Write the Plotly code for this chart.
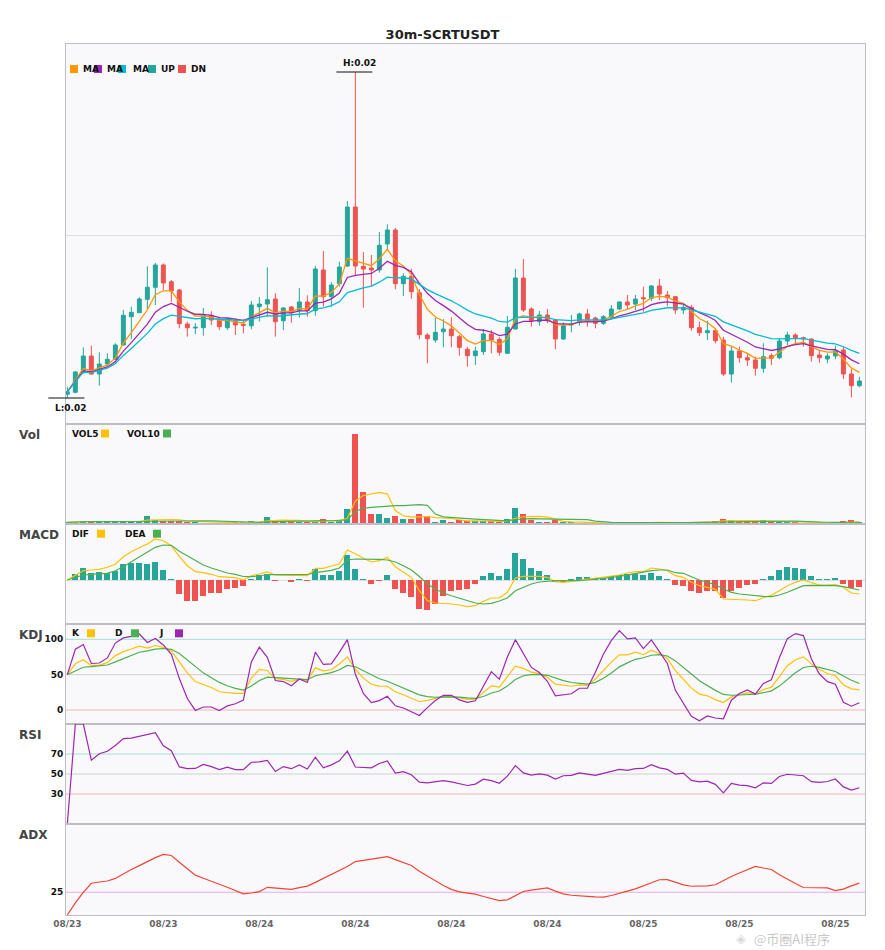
import numpy as np
import pandas as pd
import plotly.graph_objects as go
from plotly.subplots import make_subplots

TITLE = "30m-SCRTUSDT"
START = "2023-08-23 12:00"
FREQ = "30min"

open_ = [0.020037, 0.020057, 0.020253, 0.020420, 0.020240, 0.020340, 0.020387, 0.020530, 0.020813, 0.020853,
         0.020987, 0.021107, 0.021330, 0.021163, 0.021080, 0.020740, 0.020700, 0.020703, 0.020827, 0.020780,
         0.020703, 0.020773, 0.020737, 0.020723, 0.020913, 0.020940, 0.020990, 0.020773, 0.020910, 0.020873,
         0.020960, 0.020873, 0.021280, 0.021013, 0.021143, 0.021320, 0.021910, 0.021317, 0.021300, 0.021280,
         0.021540, 0.021680, 0.021143, 0.021217, 0.021053, 0.020630, 0.020580, 0.020663, 0.020690, 0.020613,
         0.020487, 0.020423, 0.020463, 0.020640, 0.020587, 0.020447, 0.020690, 0.021200, 0.020890, 0.020763,
         0.020830, 0.020780, 0.020590, 0.020730, 0.020763, 0.020840, 0.020800, 0.020747, 0.020807, 0.020890,
         0.020960, 0.020940, 0.021003, 0.020997, 0.021120, 0.021030, 0.021013, 0.020880, 0.020907, 0.020703,
         0.020653, 0.020673, 0.020580, 0.020240, 0.020470, 0.020403, 0.020380, 0.020297, 0.020423, 0.020403,
         0.020570, 0.020630, 0.020603, 0.020590, 0.020430, 0.020390, 0.020420, 0.020480, 0.020240, 0.020123]
high = [0.020113, 0.020270, 0.020507, 0.020523, 0.020457, 0.020447, 0.020547, 0.020880, 0.020913, 0.021007,
        0.021317, 0.021350, 0.021345, 0.021180, 0.021090, 0.020763, 0.020747, 0.020900, 0.020867, 0.020813,
        0.020807, 0.020797, 0.020787, 0.020970, 0.021010, 0.021307, 0.021047, 0.020910, 0.020920, 0.021100,
        0.021027, 0.021320, 0.021470, 0.021160, 0.021363, 0.021970, 0.023260, 0.021460, 0.021430, 0.021660,
        0.021737, 0.021700, 0.021247, 0.021293, 0.021090, 0.020650, 0.020803, 0.020790, 0.020807, 0.020630,
        0.020513, 0.020513, 0.020690, 0.020680, 0.020607, 0.020820, 0.021290, 0.021390, 0.020907, 0.020870,
        0.020890, 0.020790, 0.020757, 0.020830, 0.020853, 0.020890, 0.020813, 0.020830, 0.020930, 0.020965,
        0.021030, 0.021030, 0.021113, 0.021130, 0.021190, 0.021070, 0.021020, 0.020940, 0.020930, 0.020763,
        0.020773, 0.020697, 0.020613, 0.020513, 0.020513, 0.020447, 0.020413, 0.020547, 0.020447, 0.020597,
        0.020663, 0.020647, 0.020613, 0.020597, 0.020480, 0.020447, 0.020523, 0.020513, 0.020290, 0.020213]
low = [0.020000, 0.020047, 0.020247, 0.020235, 0.020123, 0.020313, 0.020380, 0.020525, 0.020590, 0.020850,
       0.020887, 0.020930, 0.021080, 0.020963, 0.020697, 0.020613, 0.020640, 0.020623, 0.020730, 0.020680,
       0.020680, 0.020630, 0.020647, 0.020687, 0.020763, 0.020813, 0.020613, 0.020680, 0.020753, 0.020803,
       0.020813, 0.020823, 0.020913, 0.020913, 0.021113, 0.021310, 0.021220, 0.020903, 0.021120, 0.021253,
       0.021480, 0.021087, 0.021020, 0.020993, 0.020587, 0.020347, 0.020553, 0.020507, 0.020507, 0.020423,
       0.020313, 0.020330, 0.020430, 0.020447, 0.020423, 0.020440, 0.020685, 0.020860, 0.020713, 0.020723,
       0.020747, 0.020487, 0.020580, 0.020657, 0.020723, 0.020713, 0.020697, 0.020730, 0.020797, 0.020880,
       0.020880, 0.020880, 0.020863, 0.020970, 0.020980, 0.020920, 0.020840, 0.020840, 0.020673, 0.020620,
       0.020580, 0.020547, 0.020220, 0.020153, 0.020353, 0.020320, 0.020223, 0.020253, 0.020330, 0.020387,
       0.020530, 0.020547, 0.020513, 0.020363, 0.020353, 0.020347, 0.020387, 0.020190, 0.020005, 0.020107]
close = [0.020063, 0.020260, 0.020420, 0.020240, 0.020340, 0.020387, 0.020530, 0.020827, 0.020857, 0.020990,
         0.021107, 0.021330, 0.021150, 0.021070, 0.020743, 0.020703, 0.020707, 0.020827, 0.020780, 0.020713,
         0.020780, 0.020730, 0.020727, 0.020930, 0.020940, 0.020983, 0.020763, 0.020900, 0.020853, 0.020960,
         0.020873, 0.021290, 0.021013, 0.021130, 0.021310, 0.021910, 0.021320, 0.021290, 0.021280, 0.021527,
         0.021680, 0.021143, 0.021217, 0.021063, 0.020633, 0.020593, 0.020657, 0.020690, 0.020623, 0.020507,
         0.020423, 0.020470, 0.020640, 0.020580, 0.020457, 0.020707, 0.021200, 0.020880, 0.020773, 0.020830,
         0.020773, 0.020590, 0.020723, 0.020737, 0.020840, 0.020790, 0.020747, 0.020813, 0.020890, 0.020960,
         0.020930, 0.020990, 0.020993, 0.021120, 0.021040, 0.021003, 0.020880, 0.020907, 0.020703, 0.020653,
         0.020673, 0.020573, 0.020240, 0.020470, 0.020403, 0.020380, 0.020297, 0.020413, 0.020397, 0.020570,
         0.020630, 0.020603, 0.020590, 0.020423, 0.020403, 0.020420, 0.020470, 0.020240, 0.020123, 0.020170]
volume = [17000, 17000, 33000, 33000, 33000, 20000, 20000, 20000, 33000, 33000,
          83000, 40000, 30000, 30000, 30000, 20000, 17000, 10000, 10000, 10000,
          10000, 23000, 13000, 33000, 17000, 73000, 43000, 23000, 23000, 23000,
          20000, 33000, 53000, 17000, 30000, 153000, 903000, 323000, 103000, 103000,
          63000, 83000, 53000, 53000, 103000, 83000, 23000, 43000, 23000, 40000,
          30000, 27000, 27000, 27000, 17000, 53000, 163000, 103000, 43000, 23000,
          13000, 43000, 13000, 17000, 7000, 7000, 10000, 10000, 10000, 10000,
          23000, 10000, 10000, 23000, 20000, 10000, 10000, 10000, 23000, 23000,
          23000, 33000, 53000, 43000, 23000, 23000, 23000, 43000, 20000, 17000,
          17000, 17000, 10000, 10000, 10000, 10000, 10000, 33000, 43000, 17000]

# MACD, in units of 1e-6 USDT
dif_u = [0, 5, 9.3, 10, 10.7, 12.7, 15.7, 23.3, 28.3, 32.3,
         36, 41, 39.3, 34.3, 23.3, 14.3, 8.3, 7.3, 5.7, 3.3,
         3, 2.3, 0, 4.3, 6, 8, 5, 5, 4.3, 5,
         4.3, 11.7, 11.7, 14, 16, 30, 26.3, 21.7, 18, 19.3,
         22.7, 13.3, 8.3, 2.7, -10.7, -20.7, -23, -23.3, -24, -25,
         -26.7, -25.7, -21.3, -18, -18, -12.3, 2, 3.7, 3.7, 3.7,
         2.7, -1.7, -2.3, -1.3, 0, 0.7, 1.7, 2.7, 3.7, 5,
         7, 8.3, 8.3, 12, 11, 9.3, 4.3, 2.7, -2.3, -5.7,
         -7.3, -9.3, -19, -19.3, -19.3, -20, -20.7, -18, -15, -10.7,
         -5.7, -2.3, 0, -2.7, -5, -5, -4.7, -7.3, -13, -14]
dea_u = [0, 2.7, 5, 5.7, 6.3, 6.7, 9.3, 13.3, 18.3, 23.3,
         27.7, 32.7, 35, 34.7, 28.7, 24, 19, 15, 12, 9.5,
         7, 5.7, 3.5, 3.3, 4, 5.5, 5.7, 5.3, 5.3, 5.3,
         5.5, 7.3, 8.3, 9.7, 12, 20, 21, 21, 21, 20.7,
         20, 18, 14.3, 10, 3.5, -4, -9, -13, -15.7, -18,
         -21, -23, -24, -23.3, -21, -18, -10.7, -7, -4, -2,
         -1.3, -0.7, -0.7, -1, -0.7, 0, 0.7, 1.7, 2.7, 3.7,
         5.2, 6.7, 7.7, 9.3, 10, 10, 7.3, 6.7, 3.3, 0,
         -2.3, -4.7, -9, -12.3, -14, -15, -16, -16.3, -16.7, -15,
         -12.3, -9, -5.7, -5.3, -5.3, -5.3, -5.7, -6.7, -8.3, -10]
hist_u = [0, 6, 12, 7, 8, 7, 9, 16.3, 17.3, 16.7,
          16, 17.7, 10, 1, -14, -20.7, -20.7, -15.7, -12.7, -12.7,
          -8.7, -7.7, -5.7, 1, 5, 6, -1, 0, -1.7, 0.7,
          -0.3, 11, 5, 5.3, 9.3, 25, 11, 1, -4, -0.5,
          5, -9, -13, -16.7, -29, -30, -24, -15.7, -10.7, -9.7,
          -9, -4, 4.3, 7, 4.3, 11, 27, 21.3, 12.3, 9,
          5, -2.3, -1.3, 0.3, 3.3, 3.3, 1.7, 2, 3.7, 5.3,
          6, 6, 5.3, 7.3, 4, 1, -5, -5.7, -10.7, -12.7,
          -10.7, -10.7, -17.7, -11, -7.7, -5, -4, 1, 4, 10,
          13, 12.3, 11.3, 4, 0.3, 0.3, 2, -4, -8, -7]

UP, DN = "#26A69A", "#EF5350"
C_MA5, C_MA10, C_MA20 = "#FF9800", "#9C27B0", "#00BCD4"
C_Y, C_G, C_P = "#FFC107", "#4CAF50", "#9C27B0"
C_ADX = "#F44336"
FONT = "DejaVu Sans"

times = pd.date_range(START, periods=len(close), freq=FREQ)
o = pd.Series(open_); h = pd.Series(high); l = pd.Series(low); c = pd.Series(close); v = pd.Series(volume)
up_mask = (c >= o).values
dif = np.array(dif_u) * 1e-6
dea = np.array(dea_u) * 1e-6
hist = np.array(hist_u) * 1e-6

# indicators derived from the OHLCV above
ma5 = c.ewm(span=5).mean(); ma10 = c.ewm(span=10).mean(); ma20 = c.ewm(span=20).mean()
vol5 = v.rolling(5, min_periods=1).mean(); vol10 = v.rolling(10, min_periods=1).mean()
low9 = l.rolling(9, min_periods=1).min(); high9 = h.rolling(9, min_periods=1).max()
rsv = ((c - low9) / (high9 - low9) * 100).fillna(50).values
K = np.zeros(len(c)); D = np.zeros(len(c)); K[0] = D[0] = 50
for i in range(1, len(c)):
    K[i] = 2 / 3 * K[i - 1] + rsv[i] / 3
    D[i] = 2 / 3 * D[i - 1] + K[i] / 3
J = 3 * K - 2 * D
delta = c.diff().fillna(0)
ag = delta.clip(lower=0).ewm(com=13).mean(); al = (-delta).clip(lower=0).ewm(com=13).mean()
rsi = (100 * ag / (ag + al)).fillna(0)
pc = c.shift(1)
tr = pd.concat([h - l, (h - pc).abs(), (l - pc).abs()], axis=1).max(axis=1)
um = h.diff(); dm = -l.diff()
pdm = pd.Series(np.where((um > dm) & (um > 0), um, 0.0))
mdm = pd.Series(np.where((dm > um) & (dm > 0), dm, 0.0))
trs = tr.ewm(span=14, adjust=False).mean()
pdi = 100 * pdm.ewm(span=14, adjust=False).mean() / trs
mdi = 100 * mdm.ewm(span=14, adjust=False).mean() / trs
dx = (100 * (pdi - mdi).abs() / (pdi + mdi)).fillna(0)
adx = dx.ewm(span=14, adjust=False).mean()

fig = make_subplots(rows=6, cols=1, shared_xaxes=True, vertical_spacing=0,
                    row_heights=[380, 100, 100, 100, 100, 91])

fig.add_trace(go.Candlestick(x=times, open=o, high=h, low=l, close=c, whiskerwidth=0,
                             increasing=dict(line=dict(color=UP, width=1), fillcolor=UP),
                             decreasing=dict(line=dict(color=DN, width=1), fillcolor=DN),
                             showlegend=False), row=1, col=1)
for s, col in [(ma5, C_MA5), (ma10, C_MA10), (ma20, C_MA20)]:
    fig.add_trace(go.Scatter(x=times, y=s, mode="lines", line=dict(color=col, width=1.3),
                             showlegend=False), row=1, col=1)

barw = 22.5 * 60 * 1000
fig.add_trace(go.Bar(x=times, y=v, width=barw, marker=dict(color=np.where(up_mask, UP, DN), line=dict(width=0)),
                     showlegend=False), row=2, col=1)
fig.add_trace(go.Scatter(x=times, y=vol5, mode="lines", line=dict(color=C_Y, width=1.2), showlegend=False), row=2, col=1)
fig.add_trace(go.Scatter(x=times, y=vol10, mode="lines", line=dict(color=C_G, width=1.2), showlegend=False), row=2, col=1)

fig.add_trace(go.Bar(x=times, y=hist, width=barw, marker=dict(color=np.where(hist >= 0, UP, DN), line=dict(width=0)),
                     showlegend=False), row=3, col=1)
fig.add_trace(go.Scatter(x=times, y=dif, mode="lines", line=dict(color=C_Y, width=1.2), showlegend=False), row=3, col=1)
fig.add_trace(go.Scatter(x=times, y=dea, mode="lines", line=dict(color=C_G, width=1.2), showlegend=False), row=3, col=1)

for s, col in [(K, C_Y), (D, C_G), (J, C_P)]:
    fig.add_trace(go.Scatter(x=times, y=s, mode="lines", line=dict(color=col, width=1.2), showlegend=False), row=4, col=1)
fig.add_trace(go.Scatter(x=times, y=rsi, mode="lines", line=dict(color=C_P, width=1.2), showlegend=False), row=5, col=1)
fig.add_trace(go.Scatter(x=times, y=adx, mode="lines", line=dict(color=C_ADX, width=1.2), showlegend=False), row=6, col=1)

# axes
xr0 = times[0] - pd.Timedelta(minutes=5)
xr1 = times[-1] + pd.Timedelta(minutes=21)
AXC = "#bdbdc6"
fig.update_xaxes(range=[xr0, xr1], showgrid=False, showline=True, mirror=True, linecolor=AXC, linewidth=1,
                 rangeslider_visible=False, ticks="", showticklabels=False, zeroline=False)
fig.update_xaxes(showticklabels=True, tickformat="%m/%d", dtick=6 * 3600 * 1000, tick0=times[0],
                 tickfont=dict(family=FONT, size=9, color="#666", weight="bold"), row=6, col=1)
fig.update_yaxes(showline=True, mirror=True, linecolor=AXC, linewidth=1, zeroline=False, showgrid=False,
                 ticks="", tickfont=dict(family=FONT, size=9, color="#111", weight="bold"))

YMIN, YMAX = 0.01974, 0.02354
GRIDP = 0.02163
fig.update_yaxes(range=[YMIN, YMAX], tickvals=[GRIDP], showticklabels=False, showgrid=True,
                 gridcolor="#dedee3", row=1, col=1)
fig.update_yaxes(range=[0, max(volume) / 0.903], showticklabels=False, row=2, col=1)
fig.update_yaxes(range=[-44e-6, 56e-6], showticklabels=False, zeroline=True,
                 zerolinecolor="#dddddd", zerolinewidth=1, row=3, col=1)
fig.update_yaxes(range=[-19.8, 121.7], tickvals=[0, 50, 100], row=4, col=1)
fig.update_yaxes(range=[0, 100], tickvals=[30, 50, 70], row=5, col=1)
fig.update_yaxes(range=[0, 100], tickvals=[25], row=6, col=1)

# reference lines
REF = [("y4", 100, "#a8dcd5"), ("y4", 50, "#cfcfd4"), ("y4", 0, "#f6b1b1"),
       ("y5", 70, "#a8dcd5"), ("y5", 50, "#cfcfd4"), ("y5", 30, "#f6b1b1"),
       ("y6", 25, "#dfaee9")]
for yref, val, col in REF:
    fig.add_shape(type="line", xref="x domain", yref=yref, x0=0, x1=1, y0=val, y1=val,
                  line=dict(color=col, width=1), layer="below")

# page offset of the plot div is 8px (body margin); plot area sits at x 66..865, y 44..915 on screen
OFF = 8
FW, FH = 885 - OFF, 950 - OFF
W, H0, LM, TM = 799, 871, 66, 44


def X(px):
    return (px - LM) / W


def Y(py):
    return (TM + H0 - py) / H0


def xt(t):
    return (t - xr0) / (xr1 - xr0)


D0 = Y(424)


def yp(p):
    return D0 + (p - YMIN) / (YMAX - YMIN) * (1 - D0)


ann = []


def txt(px, py, s, size=9, color="#111", anchor="left", fam=FONT):
    ann.append(dict(x=X(px), y=Y(py), xref="paper", yref="paper", text=s, showarrow=False,
                    xanchor=anchor, yanchor="middle", font=dict(family=fam, size=size, color=color)))


def sq(px0, py_c, col):
    fig.add_shape(type="rect", xref="paper", yref="paper", x0=X(px0), x1=X(px0 + 8),
                  y0=Y(py_c + 4), y1=Y(py_c - 4), fillcolor=col, line=dict(width=0), layer="above")


# panel names
for name, py in [("Vol", 434.5), ("MACD", 534.7), ("KDJ", 634.7), ("RSI", 734.7), ("ADX", 834.7)]:
    txt(17, py, f"<b>{name}</b>", size=12, color="#444")

# main legend
for px0, col in [(70, C_MA5), (94, C_MA10), (118, C_MA20), (148, UP), (178, DN)]:
    sq(px0, 69, col)
for px0, s in [(81, "MA"), (105, "MA"), (131, "MA"), (159, "UP"), (189, "DN")]:
    txt(px0, 69, f"<b>{s}</b>")
# vol legend
txt(70, 433.5, "<b>VOL5</b>"); sq(101, 433.5, C_Y)
txt(125, 433.5, "<b>VOL10</b>"); sq(163, 433.5, C_G)
# macd legend
txt(70, 533.7, "<b>DIF</b>"); sq(97, 533.7, C_Y)
txt(123, 533.7, "<b>DEA</b>"); sq(153, 533.7, C_G)
# kdj legend
txt(70, 633.3, "<b>K</b>"); sq(87, 633.3, C_Y)
txt(113, 633.3, "<b>D</b>"); sq(131, 633.3, C_G)
txt(157, 633.3, "<b>J</b>"); sq(175, 633.3, C_P)

# high / low markers
ih = int(np.argmax(high)); il = int(np.argmin(low))
for idx, val, lab, above in [(ih, high[ih], f"H:{high[ih]:.2f}", True), (il, low[il], f"L:{low[il]:.2f}", False)]:
    xc = xt(times[idx]); yc = yp(val)
    fig.add_shape(type="line", xref="paper", yref="paper", x0=xc - 19 / W, x1=xc + 17 / W, y0=yc, y1=yc,
                  line=dict(color="#111", width=1.2), layer="above")
    ann.append(dict(x=xc + 4 / W, y=yc, xref="paper", yref="paper", text=f"<b>{lab}</b>", showarrow=False,
                    xanchor="center", yanchor="bottom" if above else "top", yshift=2 if above else -3,
                    font=dict(family=FONT, size=9, color="#111")))

# watermark (kept just below the tick labels so it does not cover them)
ann.append(dict(x=X(748), y=Y(938), xref="paper", yref="paper", text="◈", showarrow=False,
                xanchor="right", yanchor="middle", font=dict(family="DejaVu Sans", size=13, color="rgba(190,190,190,0.6)")))
ann.append(dict(x=X(752), y=Y(938), xref="paper", yref="paper", text="@币圈AI程序", showarrow=False,
                xanchor="left", yanchor="middle", font=dict(family="Noto Sans CJK SC", size=13, color="rgba(175,175,175,0.7)")))

fig.update_layout(
    width=FW, height=FH,
    margin=dict(l=LM - OFF, r=FW - (LM - OFF) - W, t=TM - OFF, b=FH - (TM - OFF) - H0),
    paper_bgcolor="white", plot_bgcolor="#f9f9fb",
    title=dict(text=f"<b>{TITLE}</b>", x=0.5 - OFF / 2 / FW, xanchor="center", y=1 - (34 - OFF) / FH, yanchor="middle",
               font=dict(family=FONT, size=13, color="#222")),
    annotations=ann, showlegend=False, bargap=0,
)
fig.write_html("out.html")
